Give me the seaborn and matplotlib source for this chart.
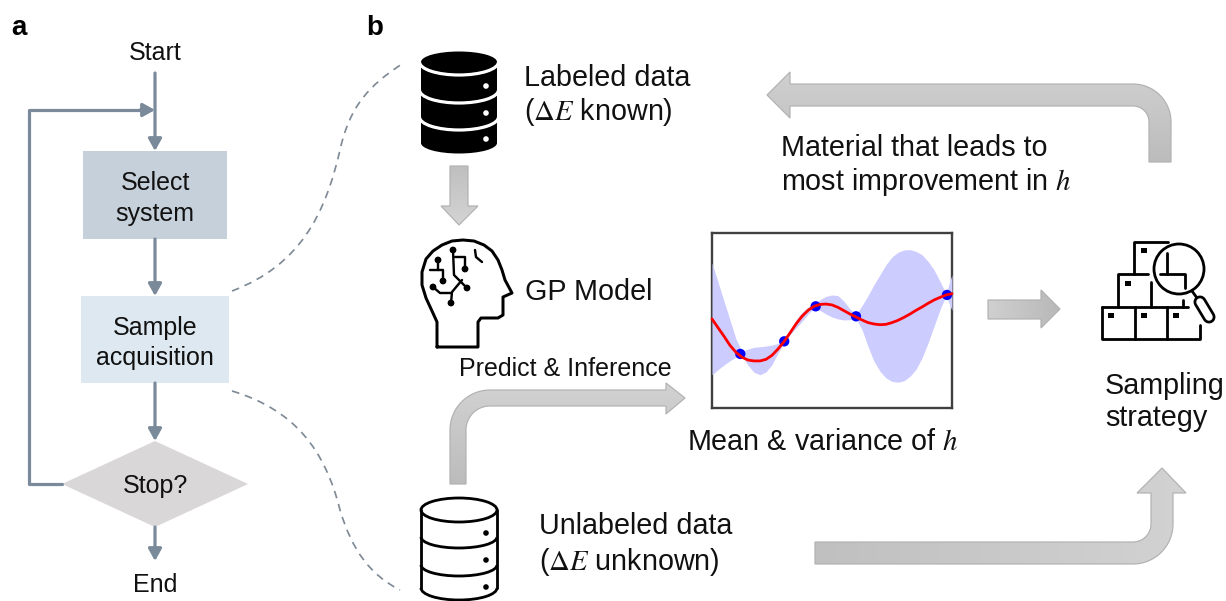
import numpy as np
import pandas as pd
import matplotlib.pyplot as plt
import seaborn as sns
from matplotlib.patches import Arc, Circle, Ellipse, PathPatch, Polygon, Rectangle
from matplotlib.path import Path
from matplotlib.colors import LinearSegmentedColormap

# values (arbitrary units, both axes 0-10)
gp_x = np.arange(0, 10.01, 0.25)
gp_mean = [5.09, 4.59, 4.10, 3.58, 3.18, 2.90, 2.74, 2.69, 2.69, 2.78, 3.01, 3.37, 3.79, 4.29,
           4.80, 5.24, 5.58, 5.81, 5.92, 5.94, 5.89, 5.75, 5.56, 5.37, 5.20, 5.03, 4.88, 4.80,
           4.76, 4.78, 4.88, 5.01, 5.18, 5.37, 5.58, 5.77, 5.98, 6.17, 6.32, 6.46, 6.53]
gp_upper = [8.29, 7.20, 6.11, 5.03, 3.94, 3.24, 3.37, 3.47, 3.50, 3.54, 3.60, 3.68, 3.87, 4.38,
            5.05, 5.47, 5.77, 5.96, 6.19, 6.38, 6.46, 6.42, 6.10, 5.66, 5.33, 5.85, 6.42, 7.05,
            7.62, 8.19, 8.63, 8.90, 9.03, 9.05, 8.95, 8.76, 8.38, 7.90, 7.24, 6.53, 7.62]
gp_lower = [1.90, 2.19, 2.46, 2.70, 2.91, 2.99, 2.44, 2.04, 1.90, 2.06, 2.48, 3.14, 3.71, 4.19,
            4.57, 4.95, 5.37, 5.71, 5.58, 5.37, 5.20, 5.09, 5.03, 5.05, 5.10, 4.48, 3.52, 2.67,
            2.10, 1.72, 1.52, 1.47, 1.56, 1.81, 2.21, 2.86, 3.71, 4.67, 5.62, 6.42, 5.58]
obs_x = [1.18, 3.01, 4.32, 6.00, 9.79]
obs_y = [3.09, 3.81, 5.81, 5.24, 6.46]

FLOW = '#7a8a9a'
TEXT = '#111111'
BIG = 20.7
SMALL = 18

sns.set_style('white')
plt.rcParams['font.family'] = ['Liberation Sans', 'DejaVu Sans']
plt.rcParams['mathtext.fontset'] = 'stix'

fig = plt.figure(figsize=(12.26, 6.01), dpi=100)
ax = fig.add_axes([0, 0, 1, 1])
ax.set_xlim(0, 1226)
ax.set_ylim(601, 0)
ax.axis('off')

PX = 0.72  # one pixel in points


def label(x, y, s, size=BIG, ha='left', **kw):
    ax.text(x, y + 1.5, s, fontsize=size, ha=ha, va='center', color=TEXT, **kw)


def flow(x0, y0, x1, y1):
    ax.annotate('', xy=(x1, y1), xytext=(x0, y0),
                arrowprops=dict(arrowstyle='-|>,head_width=0.25,head_length=0.45', color=FLOW,
                                lw=3.2 * PX, shrinkA=0, shrinkB=0, mutation_scale=16))


def arc_pts(cx, cy, r, a0, a1):
    a = np.radians(np.linspace(a0, a1, 30))
    return [(cx + r * np.cos(t), cy + r * np.sin(t)) for t in a]


def grey_arrow(pts, c0, c1, vertical):
    # polygon filled by a soft linear gradient, c0 at the low coordinate side
    xs, ys = zip(*pts)
    cmap = LinearSegmentedColormap.from_list('g', [c0, c1])
    grad = np.linspace(0, 1, 128)
    grad = grad.reshape(-1, 1) if vertical else grad.reshape(1, -1)
    poly = Polygon(pts, closed=True, fc='none', ec='#b2b2b2', lw=1.2 * PX, zorder=3)
    ax.add_patch(poly)
    im = ax.imshow(grad, cmap=cmap, aspect='auto', origin='upper', zorder=2,
                   extent=(min(xs), max(xs), max(ys), min(ys)))
    im.set_clip_path(poly)


def stroke(pts, lw=3.0, color='black', **kw):
    xs, ys = zip(*pts)
    ax.plot(xs, ys, color=color, lw=lw * PX, solid_capstyle='round', solid_joinstyle='round', **kw)


def dashed(verts):
    codes = [Path.MOVETO] + [Path.CURVE4] * (len(verts) - 1)
    ax.add_patch(PathPatch(Path(verts, codes), fc='none', ec='#7f8a96', lw=1.7 * PX, ls=(0, (4.5, 3.5))))


# panel a
ax.text(19, 28, 'a', fontsize=20, fontweight='bold', ha='center', va='center', color='black')
ax.text(375, 28, 'b', fontsize=20, fontweight='bold', ha='center', va='center', color='black')
label(155, 51, 'Start', SMALL, ha='center')
ax.add_patch(Rectangle((83, 151), 144, 88, fc='#c6d0da', ec='none'))
ax.add_patch(Rectangle((81, 296), 148, 87, fc='#dde8f1', ec='none'))
ax.add_patch(Polygon([(62, 484), (155, 441), (248, 484), (155, 527)], fc='#d9d7d8', ec='none'))
label(155, 182, 'Select', SMALL, ha='center')
label(155, 212, 'system', SMALL, ha='center')
label(155, 326, 'Sample', SMALL, ha='center')
label(155, 356, 'acquisition', SMALL, ha='center')
label(155, 484, 'Stop?', SMALL, ha='center')
label(155, 583, 'End', SMALL, ha='center')
flow(155, 73, 155, 151)
flow(155, 239, 155, 296)
flow(155, 383, 155, 441)
flow(155, 527, 155, 561)
stroke([(62, 484), (29, 484), (29, 110), (145, 110)], 3.2, FLOW)
flow(140, 110, 155, 110)

# dashed links between the panels
dashed([(232, 291), (300, 265), (325, 215), (340, 150), (350, 105), (370, 85), (402, 64)])
dashed([(232, 391), (295, 410), (325, 450), (340, 510), (352, 550), (370, 575), (400, 590)])

# labeled database
ax.add_patch(Rectangle((421, 62), 76, 81, fc='black', ec='none'))
ax.add_patch(Ellipse((459, 62), 76, 21, fc='black', ec='none'))
ax.add_patch(Ellipse((459, 143), 76, 21, fc='black', ec='none'))
for yc in [62, 90, 117]:
    ax.add_patch(Arc((459, yc), 79, 26, theta1=0, theta2=180, ec='white', lw=3.2 * PX))
for yc in [86, 113, 139]:
    ax.add_patch(Circle((486, yc), 2.8, fc='white', ec='none', zorder=3))

# unlabeled database
for yc in [537, 565]:
    ax.add_patch(Arc((459, yc), 76, 22, theta1=0, theta2=180, ec='black', lw=2.8 * PX))
ax.add_patch(Arc((459, 588), 76, 24, theta1=0, theta2=180, ec='black', lw=2.8 * PX))
ax.add_patch(Ellipse((459, 510), 76, 24, fc='white', ec='black', lw=2.8 * PX))
ax.plot([421, 421], [510, 588], color='black', lw=2.8 * PX)
ax.plot([497, 497], [510, 588], color='black', lw=2.8 * PX)
for yc in [533, 560, 587]:
    ax.add_patch(Circle((486, yc), 2.8, fc='black', ec='none'))

# head icon
stroke([(437, 347), (437, 322), (432, 311), (426, 298), (422, 285), (422, 272), (426, 259),
        (433, 251), (442, 245), (452, 241), (463, 240), (474, 241), (484, 245), (492, 251),
        (498, 260), (502, 270), (505, 280), (512, 293), (503, 297), (503, 315), (498, 318),
        (481, 318), (478, 322), (478, 347), (437, 347)], 3.0)
for seg in [[(453, 250), (454, 275), (467, 288)],
            [(455, 257), (465, 257), (465, 269)],
            [(462, 280), (452, 292), (451, 303)],
            [(451, 293), (440, 293), (433, 287)],
            [(438, 260), (438, 270)],
            [(430, 270), (443, 270), (443, 281)],
            [(475, 250), (476, 257), (482, 262)]]:
    stroke(seg, 2.4)
for cx, cy in [(453, 250), (467, 288), (465, 269), (451, 303), (433, 287), (438, 260), (443, 281)]:
    ax.add_patch(Circle((cx, cy), 3.4, fc='black', ec='none'))

# boxes and magnifier icon
for seg in [[(1102, 307), (1188, 307)], [(1102, 307), (1102, 339), (1200, 339), (1200, 325)],
            [(1135, 307), (1135, 339)], [(1167, 307), (1167, 339)],
            [(1118, 307), (1118, 274), (1148, 274)], [(1151, 282), (1151, 307)],
            [(1160, 274), (1185, 274), (1185, 288)], [(1183, 300), (1183, 307)],
            [(1134, 274), (1134, 242), (1168, 242)], [(1167, 253), (1167, 274)]]:
    stroke(seg, 2.8)
for cx, cy in [(1144, 250), (1128, 283), (1111, 315), (1144, 315), (1176, 315)]:
    ax.add_patch(Rectangle((cx - 3, cy - 2.5), 6, 5, fc='black', ec='none'))
ax.add_patch(Circle((1179, 269), 25, fc='none', ec='black', lw=2.8 * PX))
stroke([(1192, 291), (1197, 298)], 2.8)
stroke([(1200, 302), (1209, 317)], 13)
stroke([(1200, 302), (1209, 317)], 7.5, 'white')

# big grey arrows
grey_arrow([(1149, 162), (1171, 162), (1171, 122)] + arc_pts(1133, 122, 38, 0, -90)
           + [(790, 84), (790, 72), (767, 95), (790, 118), (790, 106)]
           + arc_pts(1133, 122, 16, -90, 0) + [(1149, 162)], '#d0d0d0', '#bcbcbc', True)
grey_arrow([(450, 484), (450, 430)] + arc_pts(490, 430, 40, 180, 270)
           + [(666, 390), (666, 383), (685, 398), (666, 414), (666, 406)]
           + arc_pts(490, 430, 24, 270, 180) + [(466, 484)], '#d2d2d2', '#bcbcbc', True)
grey_arrow([(815, 542)] + arc_pts(1133, 524, 18, 90, 0)
           + [(1151, 493), (1137, 493), (1162, 468), (1186, 493), (1173, 493)]
           + arc_pts(1133, 524, 40, 0, 90) + [(815, 564)], '#c0c0c0', '#d2d2d2', False)
grey_arrow([(988, 300), (1041, 300), (1041, 290), (1060, 309), (1041, 328), (1041, 319), (988, 319)],
           '#d0d0d0', '#b8b8b8', False)
grey_arrow([(450, 166), (468, 166), (468, 206), (478, 206), (459, 225), (441, 206), (450, 206)],
           '#bfbfbf', '#d4d4d4', True)
ax.set_xlim(0, 1226)
ax.set_ylim(601, 0)

# texts of panel b
label(524, 76, 'Labeled data')
label(524, 111, r'($\Delta E$ known)')
label(525, 291, 'GP Model')
label(459, 368, 'Predict & Inference', SMALL)
label(687, 441, r'Mean & variance of $h$')
label(781, 146, 'Material that leads to')
label(781, 180, r'most improvement in $h$')
label(1105, 384, 'Sampling')
label(1105, 417, 'strategy')
label(539, 525, 'Unlabeled data')
label(539, 560, r'($\Delta E$ unknown)')

# GP panel
gp_ax = fig.add_axes([712 / 1226, 1 - 408 / 601, 240 / 1226, 175 / 601])
gp_ax.patch.set_alpha(0)
gp = pd.DataFrame({'x': gp_x, 'mean': gp_mean, 'lower': gp_lower, 'upper': gp_upper})
obs = pd.DataFrame({'x': obs_x, 'y': obs_y})
gp_ax.fill_between(gp['x'], gp['lower'], gp['upper'], color='#ccccff', lw=0, zorder=3, clip_on=False)
sns.scatterplot(data=obs, x='x', y='y', color='#0000ff', s=55, edgecolor='none', zorder=4, clip_on=False, ax=gp_ax)
sns.lineplot(data=gp, x='x', y='mean', color='red', lw=2.0, errorbar=None, zorder=5, clip_on=False, ax=gp_ax)
gp_ax.set_xlim(0, 10)
gp_ax.set_ylim(0, 10)
gp_ax.set_xticks([])
gp_ax.set_yticks([])
gp_ax.set_xlabel('')
gp_ax.set_ylabel('')
for sp in gp_ax.spines.values():
    sp.set_color('#404040')
    sp.set_linewidth(1.7)

fig.savefig('out.png', dpi=100)
